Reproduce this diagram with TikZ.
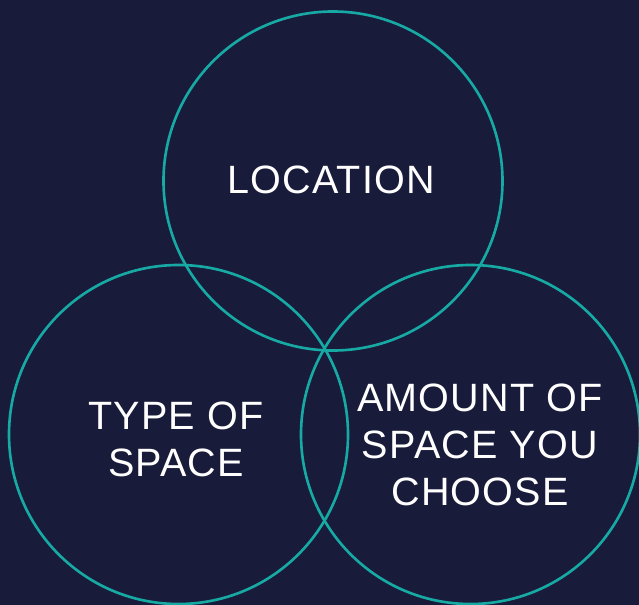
\documentclass[tikz,border=0pt]{standalone}
\usepackage{fontspec}
\setmainfont{Liberation Sans}
\usetikzlibrary{backgrounds}
\definecolor{navy}{HTML}{191B3A}
\definecolor{teal}{HTML}{17A9A4}
\tikzset{
  ring/.style={circle,draw=teal,line width=1.5pt,minimum size=339\pxunit,inner sep=0pt,outer sep=0pt},
  tag/.style={text=white,align=center,font=\fontsize{22.5}{26.7}\selectfont\addfontfeatures{LetterSpace=3},inner sep=0pt},
}
\newlength{\pxunit}
\setlength{\pxunit}{0.02cm}
\begin{document}
\begin{tikzpicture}[x=0.02cm,y=-0.02cm]

% canvas
\fill[navy] (0,0) rectangle (639,605);
\useasboundingbox (0,0) rectangle (639,605);

% rings
\node[ring] (loc) at (333,181) {};
\node[ring] (type) at (178.5,434.5) {};
\node[ring] (amt) at (470.5,434.5) {};

% labels
\node[tag] (loct) at (331,180) {LOCATION};
\node[tag] (typet) at (176,439) {TYPE OF\\SPACE};
\node[tag] (amtt) at (480,445) {AMOUNT OF\\SPACE YOU\\CHOOSE};

\end{tikzpicture}
\end{document}
